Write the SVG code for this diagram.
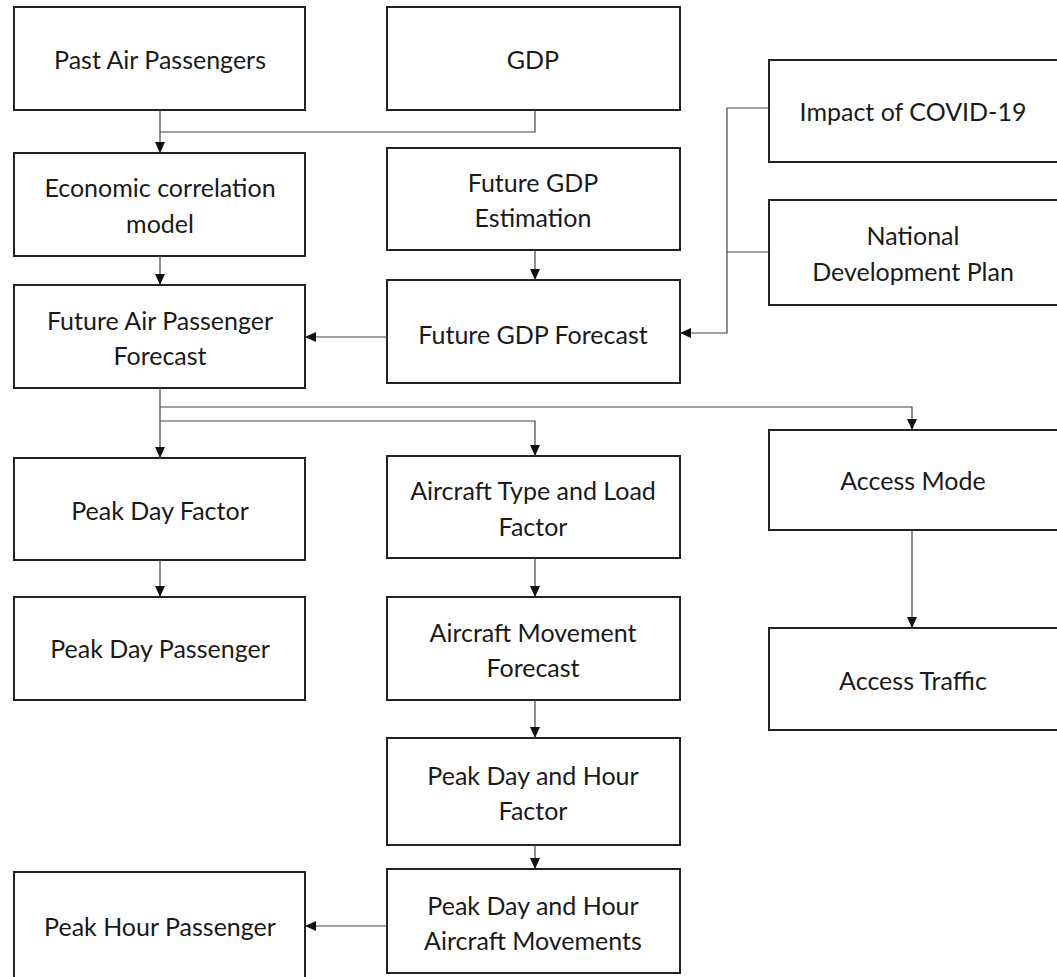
<svg xmlns="http://www.w3.org/2000/svg" width="1057" height="977" viewBox="0 0 1057 977">
<style>
.box{fill:#fff;stroke:#222;stroke-width:2}
.t{font-family:Lato,"Open Sans","Liberation Sans",sans-serif;font-size:25px;fill:#1a1a1a;text-anchor:middle;dominant-baseline:central}
.c{fill:none;stroke:#444;stroke-width:1.2}
</style>
<defs>
<marker id="ah" markerWidth="12" markerHeight="12" refX="11" refY="5.5" orient="auto" markerUnits="userSpaceOnUse">
<path d="M0,0.5 L11,5.5 L0,10.5 Z" fill="#111"/>
</marker>
</defs>
<rect width="1057" height="977" fill="#fff"/>
<g id="n1"><rect class="box" x="14" y="7" width="291" height="103"/><text class="t" x="160" y="59">Past Air Passengers</text></g>
<g id="n2"><rect class="box" x="387" y="7" width="293" height="103"/><text class="t" x="533" y="59">GDP</text></g>
<g id="n3"><rect class="box" x="769" y="60" width="290" height="102"/><text class="t" x="913" y="111">Impact of COVID-19</text></g>
<g id="n4"><rect class="box" x="14" y="153" width="291" height="103"/><text class="t" x="160" y="187">Economic correlation</text><text class="t" x="160" y="223">model</text></g>
<g id="n5"><rect class="box" x="387" y="148" width="293" height="102"/><text class="t" x="533" y="182">Future GDP</text><text class="t" x="533" y="217">Estimation</text></g>
<g id="n6"><rect class="box" x="769" y="200" width="290" height="105"/><text class="t" x="913" y="235">National</text><text class="t" x="913" y="271">Development Plan</text></g>
<g id="n7"><rect class="box" x="14" y="285" width="291" height="103"/><text class="t" x="160" y="320">Future Air Passenger</text><text class="t" x="160" y="355">Forecast</text></g>
<g id="n8"><rect class="box" x="387" y="280" width="293" height="103"/><text class="t" x="533" y="334">Future GDP Forecast</text></g>
<g id="n9"><rect class="box" x="14" y="458" width="291" height="102"/><text class="t" x="160" y="510">Peak Day Factor</text></g>
<g id="n10"><rect class="box" x="387" y="456" width="293" height="102"/><text class="t" x="533" y="490">Aircraft Type and Load</text><text class="t" x="533" y="526">Factor</text></g>
<g id="n11"><rect class="box" x="769" y="430" width="290" height="100"/><text class="t" x="913" y="480">Access Mode</text></g>
<g id="n12"><rect class="box" x="14" y="597" width="291" height="103"/><text class="t" x="160" y="648">Peak Day Passenger</text></g>
<g id="n13"><rect class="box" x="387" y="597" width="293" height="103"/><text class="t" x="533" y="632">Aircraft Movement</text><text class="t" x="533" y="667">Forecast</text></g>
<g id="n14"><rect class="box" x="769" y="628" width="290" height="102"/><text class="t" x="913" y="680">Access Traffic</text></g>
<g id="n15"><rect class="box" x="387" y="738" width="293" height="107"/><text class="t" x="533" y="775">Peak Day and Hour</text><text class="t" x="533" y="810">Factor</text></g>
<g id="n16"><rect class="box" x="387" y="869" width="293" height="104"/><text class="t" x="533" y="905">Peak Day and Hour</text><text class="t" x="533" y="940">Aircraft Movements</text></g>
<g id="n17"><rect class="box" x="14" y="872" width="291" height="110"/><text class="t" x="160" y="926">Peak Hour Passenger</text></g>
<g id="connectors">
<path class="c" d="M160,110 V153" marker-end="url(#ah)"/>
<path class="c" d="M535,110 V132 H160"/>
<path class="c" d="M160,256 V285" marker-end="url(#ah)"/>
<path class="c" d="M535,250 V280" marker-end="url(#ah)"/>
<path class="c" d="M769,108 H727 V333 H680" marker-end="url(#ah)"/>
<path class="c" d="M769,252 H727"/>
<path class="c" d="M387,337 H305" marker-end="url(#ah)"/>
<path class="c" d="M160,388 V458" marker-end="url(#ah)"/>
<path class="c" d="M160,407 H912 V430" marker-end="url(#ah)"/>
<path class="c" d="M160,421 H535 V456" marker-end="url(#ah)"/>
<path class="c" d="M160,560 V597" marker-end="url(#ah)"/>
<path class="c" d="M535,558 V597" marker-end="url(#ah)"/>
<path class="c" d="M535,700 V738" marker-end="url(#ah)"/>
<path class="c" d="M535,845 V869" marker-end="url(#ah)"/>
<path class="c" d="M912,530 V628" marker-end="url(#ah)"/>
<path class="c" d="M387,926 H305" marker-end="url(#ah)"/>
</g>
</svg>
